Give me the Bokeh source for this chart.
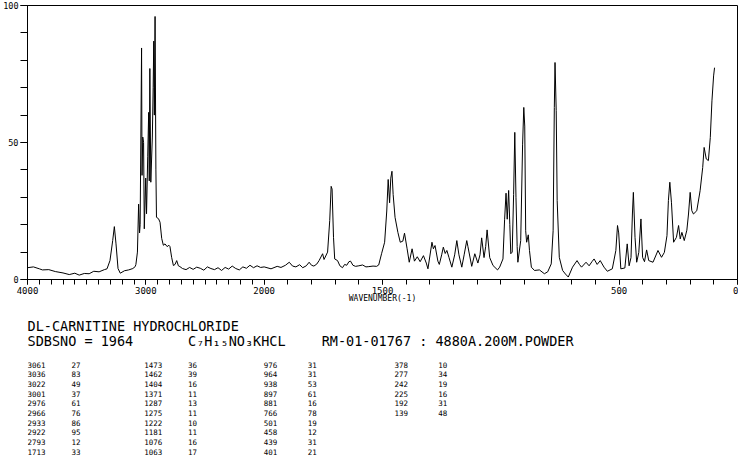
from bokeh.plotting import figure
from bokeh.models import Range1d, FixedTicker, ColumnDataSource
from bokeh.layouts import column
from bokeh.embed import file_html
from bokeh.resources import INLINE
from bokeh.core.properties import value

# ---------------- data ----------------
wavenumber = [4000, 3950, 3900, 3874, 3820, 3765, 3700, 3647, 3600, 3563, 3520, 3479, 3440, 3395,
              3350, 3328, 3303, 3280, 3266, 3252, 3235, 3216, 3180, 3145, 3110, 3090, 3084, 3071,
              3061, 3053, 3048, 3036, 3032, 3026, 3019, 3013, 3006, 3001, 2994, 2984, 2976, 2971,
              2966, 2958, 2945, 2938, 2933, 2928, 2922, 2915, 2910, 2893, 2880, 2866, 2852, 2838,
              2820, 2805, 2796, 2782, 2767, 2753, 2739, 2725, 2712, 2690, 2660, 2630, 2600, 2570,
              2540, 2510, 2480, 2450, 2420, 2390, 2360, 2330, 2300, 2270, 2240, 2210, 2180, 2150,
              2120, 2090, 2060, 2030, 2000, 1971, 1945, 1929, 1910, 1894, 1880, 1866, 1850, 1837,
              1822, 1810, 1800, 1790, 1778, 1768, 1753, 1747, 1732, 1723, 1717, 1713, 1707, 1702,
              1690, 1680, 1669, 1660, 1651, 1642, 1635, 1625, 1614, 1600, 1584, 1570, 1558, 1540,
              1525, 1516, 1504, 1491, 1482, 1476, 1470, 1465, 1460, 1455, 1447, 1435, 1425, 1414,
              1407, 1396, 1387, 1375, 1365, 1353, 1341, 1327, 1315, 1308, 1291, 1285, 1278, 1266,
              1260, 1250, 1243, 1235, 1228, 1219, 1207, 1195, 1186, 1177, 1165, 1155, 1144, 1139,
              1123, 1110, 1097, 1088, 1081, 1071, 1064, 1058, 1047, 1033, 1014, 1005, 991, 984,
              978, 973, 967, 962, 958, 952, 946, 941, 936, 931, 928, 916, 908, 903, 899, 895, 891,
              884, 879, 871, 858, 837, 816, 802, 787, 779, 774, 771, 766, 762, 753, 739, 727, 715,
              697, 678, 668, 659, 640, 627, 615, 606, 593, 580, 564, 550, 529, 514, 507, 502, 493,
              476, 466, 458, 450, 444, 440, 433, 426, 417, 408, 401, 393, 384, 375, 357, 336, 321,
              309, 298, 292, 286, 279, 270, 258, 249, 242, 235, 225, 214, 207, 200, 193, 186, 172,
              158, 147, 141, 132, 123, 115, 108, 101, 97]
intensity = [4.3, 4.6, 3.9, 3.5, 3.6, 2.9, 2.4, 1.8, 2.3, 1.6, 2.2, 2.1, 3.0, 2.8,
             3.6, 3.9, 6.9, 14.2, 19.3, 13.0, 4.0, 2.3, 3.2, 3.5, 4.0, 4.7, 5.5, 10.0,
             27.5, 17.0, 20.0, 84.5, 38.0, 52.0, 50.0, 18.5, 29.0, 37.0, 24.0, 45.0, 61.0, 36.0,
             77.0, 35.5, 52.0, 70.0, 87.0, 60.0, 96.0, 40.0, 22.7, 22.2, 20.9, 15.0, 12.5, 13.0,
             12.0, 12.5, 12.0, 8.1, 5.1, 5.5, 6.9, 5.0, 4.7, 4.0, 3.6, 4.4, 3.7, 4.5,
             4.1, 3.4, 4.6, 4.0, 3.6, 4.3, 3.3, 4.4, 3.8, 4.9, 4.0, 3.5, 4.6, 4.1,
             5.2, 4.3, 5.0, 4.4, 4.6, 3.9, 4.8, 4.4, 5.2, 6.3, 4.9, 4.6, 5.4, 4.3,
             5.0, 6.3, 5.2, 4.9, 5.6, 6.9, 9.4, 7.3, 10.0, 21.5, 34.0, 33.0, 15.4, 7.5,
             6.9, 5.0, 4.3, 5.5, 5.2, 6.5, 6.7, 5.2, 4.8, 5.0, 5.3, 4.6, 4.7, 4.9,
             4.8, 5.3, 9.4, 13.6, 25.0, 36.5, 28.0, 37.0, 39.5, 31.0, 22.7, 17.2, 13.6, 14.0,
             16.9, 11.2, 6.3, 11.2, 6.7, 8.3, 6.5, 8.7, 6.0, 3.9, 13.6, 11.2, 12.4, 6.7,
             5.5, 9.0, 11.8, 9.5, 10.6, 8.0, 4.5, 9.0, 14.2, 9.0, 4.5, 9.0, 14.2, 12.0,
             4.8, 9.4, 6.0, 9.0, 15.2, 8.0, 12.0, 18.1, 8.0, 5.1, 3.5, 4.5, 7.5, 22.0,
             31.5, 22.0, 32.5, 20.0, 9.4, 10.0, 31.0, 53.7, 30.0, 12.0, 6.3, 14.2, 49.4, 62.8, 56.0, 17.8, 13.6,
             16.3, 10.6, 4.5, 3.3, 3.5, 2.1, 2.8, 5.7, 17.8, 62.8, 79.2, 61.6, 28.8, 8.1, 3.3, 2.0, 0.9,
             4.5, 6.9, 5.5, 4.5, 6.3, 5.0, 6.5, 7.5, 5.5, 6.9, 4.5, 3.0, 3.9, 10.6, 19.7, 17.0, 3.9,
             4.2, 13.0, 5.0, 8.0, 23.9, 31.8, 15.4, 6.3, 9.9, 22.1, 8.1, 6.5, 10.8, 6.9, 6.3, 10.6, 8.1,
             9.9, 16.0, 28.8, 35.5, 28.0, 13.6, 15.4, 19.7, 14.8, 17.2, 14.2, 18.0, 23.9, 31.8, 25.1, 23.9, 25.1,
             32.4, 40.9, 48.2, 44.0, 43.4, 51.8, 65.2, 74.3, 77.3]

peak_wn = [3061, 3036, 3022, 3001, 2976, 2966, 2933, 2922, 2793, 1713,
           1473, 1462, 1404, 1371, 1287, 1275, 1222, 1181, 1076, 1063,
           976, 964, 938, 897, 881, 766, 501, 458, 439, 401,
           378, 277, 242, 225, 192, 139]
peak_int = [27, 83, 49, 37, 61, 76, 86, 95, 12, 33,
            36, 39, 16, 11, 13, 11, 10, 11, 16, 17,
            31, 31, 53, 61, 16, 78, 19, 12, 31, 21,
            10, 34, 19, 16, 31, 48]

x_tick_labels = [4000, 3000, 2000, 1500, 500, 0]
y_tick_labels = [0, 50, 100]

title_text = "DL-CARNITINE HYDROCHLORIDE"
sdbs_text = "SDBSNO = 1964"
formula_text = "C\u2087H\u2081\u2085NO\u2083KHCL"
sample_text = "RM-01-01767 : 4880A.200M.POWDER"
x_label = "WAVENUMBER(-1)"


def to_axis(w):
    # split scale: 4000-2000 drawn at half the density of 2000-0
    return 4000 - w if w >= 2000 else 2000 + 2 * (2000 - w)


MONO = "DejaVu Sans Mono"
W = 738
H_TOTAL = 457
FRAME_L, FRAME_R = 25, 737
H1 = 306
H2 = H_TOTAL - H1

p = figure(width=W, height=H1, x_range=Range1d(0, 6000), y_range=Range1d(0, 100),
           output_backend="svg", toolbar_location=None,
           min_border_left=FRAME_L, min_border_right=W - FRAME_R, min_border_top=5,
           min_border_bottom=27)
p.background_fill_color = "white"
p.border_fill_color = "white"
p.grid.visible = False
p.outline_line_color = "black"
p.outline_line_alpha = 1.0
p.outline_line_width = 1

p.xaxis.ticker = FixedTicker(ticks=[to_axis(v) for v in x_tick_labels],
                             minor_ticks=[to_axis(w) for w in range(0, 4001, 100)])
p.xaxis.major_label_overrides = {to_axis(v): str(v) for v in x_tick_labels}
p.yaxis.ticker = FixedTicker(ticks=y_tick_labels, minor_ticks=list(range(0, 101, 10)))

for ax in (p.xaxis[0], p.yaxis[0]):
    ax.axis_line_color = "black"
    ax.major_tick_line_color = "black"
    ax.minor_tick_line_color = "black"
    ax.major_tick_in = 0
    ax.minor_tick_in = 0
    ax.major_label_text_font = MONO
    ax.major_label_text_color = "black"
p.xaxis.major_label_text_font_size = "9px"
p.yaxis.major_label_text_font_size = "8.5px"
p.xaxis.major_tick_out = 5
p.xaxis.minor_tick_out = 5
p.yaxis.major_tick_out = 7
p.yaxis.minor_tick_out = 7
p.xaxis.major_label_standoff = 2
p.yaxis.major_label_standoff = 2
p.xaxis.axis_label = x_label
p.xaxis.axis_label_text_font = MONO
p.xaxis.axis_label_text_font_size = "8px"
p.xaxis.axis_label_text_font_style = "normal"
p.xaxis.axis_label_text_color = "black"
p.xaxis.axis_label_standoff = -3

src = ColumnDataSource(dict(x=[to_axis(w) for w in wavenumber], y=intensity))
p.line("x", "y", source=src, line_color="black", line_width=1)

# ---------------- text block (frame aligned with the plot frame above) ----------------
t = figure(width=W, height=H2, x_range=Range1d(FRAME_L, FRAME_R), y_range=Range1d(H_TOTAL, H1),
           output_backend="svg", toolbar_location=None,
           min_border_left=FRAME_L, min_border_right=W - FRAME_R, min_border_top=0,
           min_border_bottom=0, x_axis_location=None, y_axis_location=None)
t.grid.visible = False
t.outline_line_color = None
t.background_fill_color = "white"
t.border_fill_color = "white"

t.text(x=[25], y=[325], text=[title_text], text_font=value(MONO),
       text_font_size="13.5px", text_baseline="middle", text_color="black")
t.text(x=[25, 186, 320], y=[340] * 3, text=[sdbs_text, formula_text, sample_text],
       text_font=value(MONO), text_font_size="13.5px", text_baseline="middle", text_color="black")

wn_cols = [25, 142, 262, 393]
int_cols = [69, 186, 306, 437]
row0, row_dy = 364, 9.7
tx, ty, tt = [], [], []
for i, (w, v) in enumerate(zip(peak_wn, peak_int)):
    g, r = divmod(i, 10)
    tx += [wn_cols[g], int_cols[g]]
    ty += [row0 + r * row_dy] * 2
    tt += [str(w), str(v)]
t.text(x=tx, y=ty, text=tt, text_font=value(MONO), text_font_size="7.5px",
       text_baseline="middle", text_color="black")

layout = column(p, t, spacing=0)
open("out.html", "w").write(file_html(layout, INLINE))
